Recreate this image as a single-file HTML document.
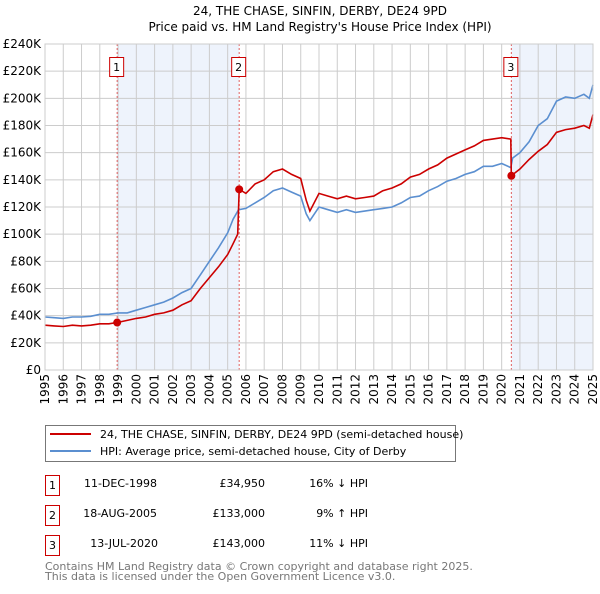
<!DOCTYPE html>
<html><head><meta charset="utf-8"><style>
body{margin:0;background:#fff;font-family:"DejaVu Sans","Liberation Sans",sans-serif;}
svg text{font-family:"DejaVu Sans","Liberation Sans",sans-serif;}
</style></head><body>
<svg id="chart" width="600" height="590" xmlns="http://www.w3.org/2000/svg">
<text x="320" y="15" text-anchor="middle" font-size="12">24, THE CHASE, SINFIN, DERBY, DE24 9PD</text>
<text x="320" y="31" text-anchor="middle" font-size="12">Price paid vs. HM Land Registry's House Price Index (HPI)</text>
<g id="plot"></g>
<g>
<rect x="45.5" y="425.5" width="410" height="36" fill="#fff" stroke="#777"/>
<line x1="50" y1="434" x2="91" y2="434" stroke="#cc0000" stroke-width="2"/>
<text x="100" y="438" font-size="11">24, THE CHASE, SINFIN, DERBY, DE24 9PD (semi-detached house)</text>
<line x1="50" y1="451" x2="91" y2="451" stroke="#5b8fd0" stroke-width="2"/>
<text x="100" y="455" font-size="11">HPI: Average price, semi-detached house, City of Derby</text>
</g>
<g font-size="11">
<rect x="45.5" y="475.5" width="14" height="20" fill="#fff" stroke="#cc0000"/><text x="52.5" y="489" text-anchor="middle">1</text>
<text x="157" y="487" text-anchor="end">11-DEC-1998</text><text x="265" y="487" text-anchor="end">£34,950</text><text x="368" y="487" text-anchor="end">16% ↓ HPI</text>
<rect x="45.5" y="505.5" width="14" height="20" fill="#fff" stroke="#cc0000"/><text x="52.5" y="519" text-anchor="middle">2</text>
<text x="157" y="517" text-anchor="end">18-AUG-2005</text><text x="265" y="517" text-anchor="end">£133,000</text><text x="368" y="517" text-anchor="end">9% ↑ HPI</text>
<rect x="45.5" y="535.5" width="14" height="20" fill="#fff" stroke="#cc0000"/><text x="52.5" y="549" text-anchor="middle">3</text>
<text x="158" y="547" text-anchor="end">13-JUL-2020</text><text x="265" y="547" text-anchor="end">£143,000</text><text x="368" y="547" text-anchor="end">11% ↓ HPI</text>
</g>
<text x="45" y="570" font-size="11" fill="#777">Contains HM Land Registry data © Crown copyright and database right 2025.</text>
<text x="45" y="580" font-size="11" fill="#777">This data is licensed under the Open Government Licence v3.0.</text>
</svg>
<script>
const hpiYears=[1995,1995.5,1996,1996.5,1997,1997.5,1998,1998.5,1999,1999.5,2000,2000.5,2001,2001.5,2002,2002.5,2003,2003.5,2004,2004.5,2005,2005.3,2005.6,2006,2006.5,2007,2007.5,2008,2008.5,2009,2009.3,2009.5,2010,2010.5,2011,2011.5,2012,2012.5,2013,2013.5,2014,2014.5,2015,2015.5,2016,2016.5,2017,2017.5,2018,2018.5,2019,2019.5,2020,2020.5,2020.6,2021,2021.5,2022,2022.5,2023,2023.5,2024,2024.5,2024.8,2025];
const hpiValues=[39,38.5,38,39,39,39.5,41,41,42,42,44,46,48,50,53,57,60,70,80,90,101,111,118,119,123,127,132,134,131,128,115,110,120,118,116,118,116,117,118,119,120,123,127,128,132,135,139,141,144,146,150,150,152,149,156,160,168,180,185,198,201,200,203,200,210];
const priceYears=[1995,1995.5,1996,1996.5,1997,1997.5,1998,1998.5,1998.95,1999.5,2000,2000.5,2001,2001.5,2002,2002.5,2003,2003.5,2004,2004.5,2005,2005.3,2005.55,2005.63,2006,2006.5,2007,2007.5,2008,2008.5,2009,2009.3,2009.5,2010,2010.5,2011,2011.5,2012,2012.5,2013,2013.5,2014,2014.5,2015,2015.5,2016,2016.5,2017,2017.5,2018,2018.5,2019,2019.5,2020,2020.5,2020.53,2021,2021.5,2022,2022.5,2023,2023.5,2024,2024.5,2024.8,2025];
const priceValues=[33,32.5,32,33,32.5,33,34,34,34.95,36.5,38,39,41,42,44,48,51,60,68,76,85,93,100,133,130,137,140,146,148,144,141,125,117,130,128,126,128,126,127,128,132,134,137,142,144,148,151,156,159,162,165,169,170,171,170,143,148,155,161,166,175,177,178,180,178,188];
const saleYears=[1998.95,2005.63,2020.53];
const saleValues=[34.95,133,143];
const saleLabels=["1","2","3"];
const yTicks=[0,20,40,60,80,100,120,140,160,180,200,220,240];
const xTicks=[1995,1996,1997,1998,1999,2000,2001,2002,2003,2004,2005,2006,2007,2008,2009,2010,2011,2012,2013,2014,2015,2016,2017,2018,2019,2020,2021,2022,2023,2024,2025];
const X0=45,X1=593,Y0=370,Y1=44;
const xs=y=>X0+(y-1995)/30*(X1-X0);
const ys=v=>Y0-v/240*(Y0-Y1);
const NS="http://www.w3.org/2000/svg";
const g=document.getElementById('plot');
function mk(t,a){const e=document.createElementNS(NS,t);for(const k in a)e.setAttribute(k,a[k]);g.appendChild(e);return e;}
let r=mk('rect',{x:xs(saleYears[0]),y:Y1,width:xs(saleYears[1])-xs(saleYears[0]),height:Y0-Y1,fill:'#eef3fc'});


r=mk('rect',{x:xs(saleYears[2]),y:Y1,width:X1-xs(saleYears[2]),height:Y0-Y1,fill:'#eef3fc'});


yTicks.forEach(v=>{
 const l=mk('line',{x1:X0,x2:X1,y1:ys(v),y2:ys(v),stroke:'#ccc'});
 
 
 const t=mk('text',{x:X0-4,y:ys(v)+4,'text-anchor':'end','font-size':'12'});
 t.textContent='£'+(v?v+'K':'0');
 
 
});
xTicks.forEach(v=>{
 const l=mk('line',{x1:xs(v),x2:xs(v),y1:Y1,y2:Y0,stroke:'#ccc'});
 
 
 const t=mk('text',{x:0,y:0,'text-anchor':'end','font-size':'12',transform:`translate(${xs(v)+4},${Y0+4}) rotate(-90)`});
 t.textContent=v;
 
 
});
saleYears.forEach((y,i)=>{
 const l=mk('line',{x1:xs(y),x2:xs(y),y1:Y1,y2:Y0,stroke:'#e06060','stroke-dasharray':'2,2'});
 
 
 const b=mk('rect',{x:xs(y)-7.5,y:57.5,width:14,height:19,fill:'#fff',stroke:'#cc0000'});
 
 
 const t=mk('text',{x:xs(y)-0.5,y:71,'text-anchor':'middle','font-size':'11'});
 t.textContent=saleLabels[i];
 
 
});
const pts=(xa,va)=>xa.map((x,i)=>xs(x).toFixed(1)+','+ys(va[i]).toFixed(1)).join(' ');
let p=mk('polyline',{points:pts(hpiYears,hpiValues),fill:'none',stroke:'#5b8fd0','stroke-width':1.6});


p=mk('polyline',{points:pts(priceYears,priceValues),fill:'none',stroke:'#cc0000','stroke-width':1.6});


saleYears.forEach((y,i)=>{
 const c=mk('circle',{cx:xs(y),cy:ys(saleValues[i]),r:4,fill:'#cc0000'});
 
 
});
const ax=mk('rect',{x:X0,y:Y1,width:X1-X0,height:Y0-Y1,fill:'none',stroke:'#ccc'});


</script>
</body></html>
